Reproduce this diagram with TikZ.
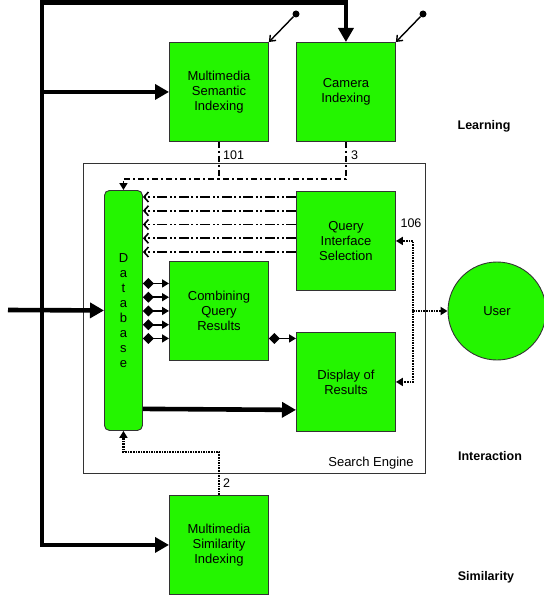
\documentclass[tikz,border=0pt]{standalone}
\usepackage{fontspec}
\setmainfont{Liberation Sans}
\usetikzlibrary{arrows.meta,calc}
\definecolor{boxgreen}{RGB}{36,245,0}
\begin{document}
\begin{tikzpicture}[x=1pt,y=-1pt,
  font=\fontsize{13}{15}\selectfont,
  block/.style={draw=black!80,line width=0.9pt,fill=boxgreen,minimum width=99pt,
    minimum height=99pt,inner sep=0pt,align=center,anchor=north west},
  dbbox/.style={draw=black!80,line width=0.9pt,fill=boxgreen,rounded corners=5pt,
    minimum width=38pt,minimum height=240pt,inner sep=0pt,align=center,anchor=north west,
    font=\fontsize{13}{15.1}\selectfont},
  bus/.style={line width=4.6pt,line join=miter},
  bustip/.style={-{Triangle[length=14pt,width=15pt]}},
  dashdotline/.style={line width=1.6pt,dash pattern=on 6pt off 3pt on 2pt off 3pt},
  dashdotdotline/.style={line width=1.6pt,dash pattern=on 10pt off 2.5pt on 2pt off 2.5pt on 2pt off 2.5pt},
  dotline/.style={line width=2.4pt,dash pattern=on 1.6pt off 1pt},
  smalltip/.style={-{Triangle[length=7pt,width=8pt]}},
  barbtip/.style={-{Straight Barb[length=4.5pt,width=10pt,line width=1.6pt]}},
  diamtip/.style={line width=1.6pt,{Diamond[length=11pt,width=11pt]}-{Triangle[length=7pt,width=8pt]}},
  lever/.style={line width=1.4pt,-{Straight Barb[length=5pt,width=8pt]}},
  pivot/.style={circle,fill=black,inner sep=0pt,minimum size=7pt},
  numlabel/.style={font=\fontsize{12.5}{14}\selectfont,inner sep=0pt},
  layer/.style={font=\fontsize{12.5}{15}\selectfont\bfseries,inner sep=0pt}
]
\useasboundingbox (0,0) rectangle (543,596);

% search engine frame
\node[draw=black!80,line width=0.9pt,minimum width=342pt,minimum height=310pt,
  inner sep=0pt,anchor=north west] (se) at (82.5,163) {};
\node[inner sep=0pt] (selabel) at (371,463) {Search Engine};

% processing blocks
\node[block] (msi) at (169,42) {Multimedia\\Semantic\\Indexing};
\node[block] (cam) at (296,42) {Camera\\Indexing};
\node[block] (qis) at (296,191) {Query\\Interface\\Selection};
\node[block] (cqr) at (169,261) {Combining\\Query\\Results};
\node[block] (dor) at (296,332) {Display of\\Results};
\node[block] (msim) at (169,495) {Multimedia\\Similarity\\Indexing};
\node[dbbox] (db) at (104,190) {D\\a\\t\\a\\b\\a\\s\\e};
\node[draw=black!80,line width=0.9pt,fill=boxgreen,circle,minimum size=98pt,inner sep=0pt]
  (user) at (497,311) {User};

% layer captions
\node[layer] (learn) at (484,126) {Learning};
\node[layer] (inter) at (490,456) {Interaction};
\node[layer] (simil) at (486,577) {Similarity};

% main feed bus
\coordinate (corner) at (42,2.3);
\draw[bus,{Triangle[length=14pt,width=15pt]}-{Triangle[length=14pt,width=15pt]}]
  (cam.north) |- (corner) |- (msim.west);
\draw[bus,bustip] (corner |- msi.west) -- (msi.west);
\coordinate (feed) at (8,310);
\draw[bus,bustip] (feed) -- (db.west);
\draw[bus,bustip] ([yshift=22pt]db.south east) -- ([yshift=22pt]dor.south west);

% learning switches
\node[pivot] (sw1) at (296,14) {};
\node[pivot] (sw2) at (423,14) {};
\draw[lever] (sw1) -- (msi.north east);
\draw[lever] (sw2) -- (cam.north east);

% learning feedback into the database
\coordinate (lj) at ([yshift=-37pt]msi.south);
\draw[dashdotline,smalltip] (msi.south) -- (lj) -| (db.north);
\draw[dashdotline] (cam.south) |- (lj);
\node[numlabel,anchor=west] (l101) at (223,155) {101};
\node[numlabel,anchor=west] (l3) at (351,155) {3};

% query interface selections into the database
\foreach \d in {6,19.75,33.5,47.25,61}{
  \coordinate (q) at ([yshift=-\d pt]qis.north west);
  \draw[dashdotdotline,barbtip] (q) -- (q -| db.east);
}

% database records into result combination
\foreach \d in {-27.5,-13.75,0,13.75,27.5}{
  \coordinate (r) at ([yshift=\d pt]cqr.west);
  \draw[diamtip] (r -| db.east) -- (r);
}
\coordinate (cr) at ([yshift=-27.5pt]cqr.east);
\draw[diamtip] (cr) -- (cr -| dor.west);

% user interaction
\coordinate (uj) at (413,311);
\draw[dotline,smalltip] (uj) -- (user.west);
\draw[dotline,smalltip] (uj) |- (qis.east);
\draw[dotline,smalltip] (uj) |- (dor.east);
\node[numlabel] (l106) at (411,223) {106};

% similarity feedback
\draw[dotline,smalltip] (msim.north) -- ++(0,-43) -| (db.south);
\node[numlabel,anchor=west] (l2) at (223,483) {2};
\end{tikzpicture}
\end{document}
